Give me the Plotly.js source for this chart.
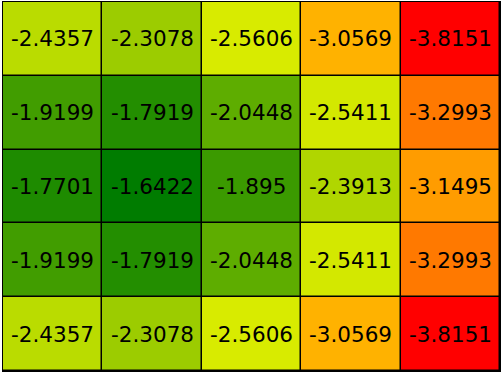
<!DOCTYPE html>
<html>
<head>
<meta charset="utf-8">
<script src="https://cdn.plot.ly/plotly-3.0.1.min.js"></script>
<style>html,body{margin:0;padding:0;background:#fff;}#chart{width:503px;height:374px;}</style>
</head>
<body>
<div id="chart"></div>
<script>
const columns = ['c1', 'c2', 'c3', 'c4', 'c5'];
const rows = ['r1', 'r2', 'r3', 'r4', 'r5'];
const row1 = [-2.4357, -2.3078, -2.5606, -3.0569, -3.8151];
const row2 = [-1.9199, -1.7919, -2.0448, -2.5411, -3.2993];
const row3 = [-1.7701, -1.6422, -1.895, -2.3913, -3.1495];
const row4 = [-1.9199, -1.7919, -2.0448, -2.5411, -3.2993];
const row5 = [-2.4357, -2.3078, -2.5606, -3.0569, -3.8151];
const values = [row1, row2, row3, row4, row5];

const annotations = [];
values.forEach((r, i) => r.forEach((v, j) => {
  annotations.push({
    x: columns[j], y: rows[i], xref: 'x', yref: 'y',
    text: String(v), showarrow: false,
    font: {family: 'DejaVu Sans', size: 21.5, color: '#000'}
  });
}));

Plotly.newPlot('chart', [{
  type: 'heatmap',
  x: columns,
  y: rows,
  z: values,
  colorscale: [[0, 'rgb(255,0,0)'], [0.5, 'rgb(255,255,0)'], [1, 'rgb(0,124,0)']],
  showscale: false,
  xgap: 1.5,
  ygap: 1.5,
  hoverinfo: 'none'
}], {
  width: 503,
  height: 374,
  margin: {l: 3, r: 3, t: 2, b: 3, pad: 0},
  paper_bgcolor: '#fff',
  plot_bgcolor: '#000',
  annotations: annotations,
  xaxis: {showticklabels: false, ticks: '', showgrid: false, zeroline: false, showline: true, linecolor: '#000', linewidth: 1, mirror: true},
  yaxis: {showticklabels: false, ticks: '', showgrid: false, zeroline: false, showline: true, linecolor: '#000', linewidth: 1, mirror: true, autorange: 'reversed'}
}, {displayModeBar: false, staticPlot: true});
</script>
</body>
</html>
